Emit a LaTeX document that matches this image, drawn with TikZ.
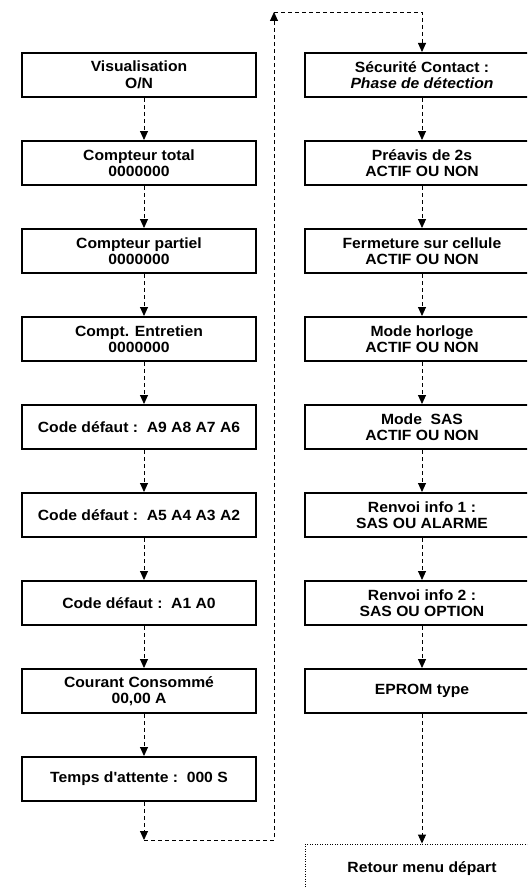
\documentclass[tikz,border=0pt]{standalone}
\usepackage{fontspec}
\setmainfont{Liberation Sans}[FakeStretch=1.06]
\usetikzlibrary{arrows.meta}

\begin{document}
\begin{tikzpicture}[x=1pt, y=-1pt,
		menubox/.style={draw, line width=2pt, minimum width=234pt, minimum height=44pt, inner sep=0pt, align=center, font=\fontsize{14.8}{16.5}\selectfont\bfseries},
		retbox/.style={menubox, line width=0.9pt, dash pattern=on 1pt off 1.5pt, minimum height=50pt},
		link/.style={line width=0.9pt, dash pattern=on 4pt off 3pt, -{Triangle[width=8pt,length=9pt]}}]
				\clip (0,0) rectangle (527,888);
				\node[menubox] (g1) at (139,75) {Visualisation\\O/N};
				\node[menubox] (g2) at (139,163) {Compteur total\\0000000};
				\node[menubox] (g3) at (139,251) {Compteur partiel\\0000000};
				\node[menubox] (g4) at (139,339) {Compt. Entretien\\0000000};
				\node[menubox] (g5) at (139,427) {Code défaut :\ \ A9 A8 A7 A6};
				\node[menubox] (g6) at (139,515) {Code défaut :\ \ A5 A4 A3 A2};
				\node[menubox] (g7) at (139,603) {Code défaut :\ \ A1 A0};
				\node[menubox] (g8) at (139,691) {Courant Consommé\\00,00 A};
				\node[menubox] (g9) at (139,779) {Temps d\textquotesingle attente :\ \ 000 S};
				\node[menubox] (d1) at (422,75) {Sécurité Contact :\\\itshape Phase de détection};
				\node[menubox] (d2) at (422,163) {Préavis de 2s\\ACTIF OU NON};
				\node[menubox] (d3) at (422,251) {Fermeture sur cellule\\ACTIF OU NON};
				\node[menubox] (d4) at (422,339) {Mode horloge\\ACTIF OU NON};
				\node[menubox] (d5) at (422,427) {Mode\ \ SAS\\ACTIF OU NON};
				\node[menubox] (d6) at (422,515) {Renvoi info 1 :\\SAS OU ALARME};
				\node[menubox] (d7) at (422,603) {Renvoi info 2 :\\SAS OU OPTION};
				\node[menubox] (d8) at (422,691) {EPROM type};
				\node[retbox] (ret) at (422,869) {Retour menu départ};
				\foreach \a/\b in {g1/g2, g2/g3, g3/g4, g4/g5, g5/g6, g6/g7, g7/g8, g8/g9} {
					\draw[link] ([xshift=5pt]\a.south) -- ([xshift=5pt]\b.north);
				}
				\foreach \a/\b in {d1/d2, d2/d3, d3/d4, d4/d5, d5/d6, d6/d7, d7/d8, d8/ret} {
					\draw[link] (\a.south) -- (\b.north);
				}
				\coordinate (lowturn) at (144,840);
				\coordinate (topturn) at (274,12);
				\draw[link] ([xshift=5pt]g9.south) -- (lowturn);
				\draw[link] (lowturn) -| (topturn);
				\draw[link] (topturn) -| (d1.north);
			\end{tikzpicture}
\end{document}
